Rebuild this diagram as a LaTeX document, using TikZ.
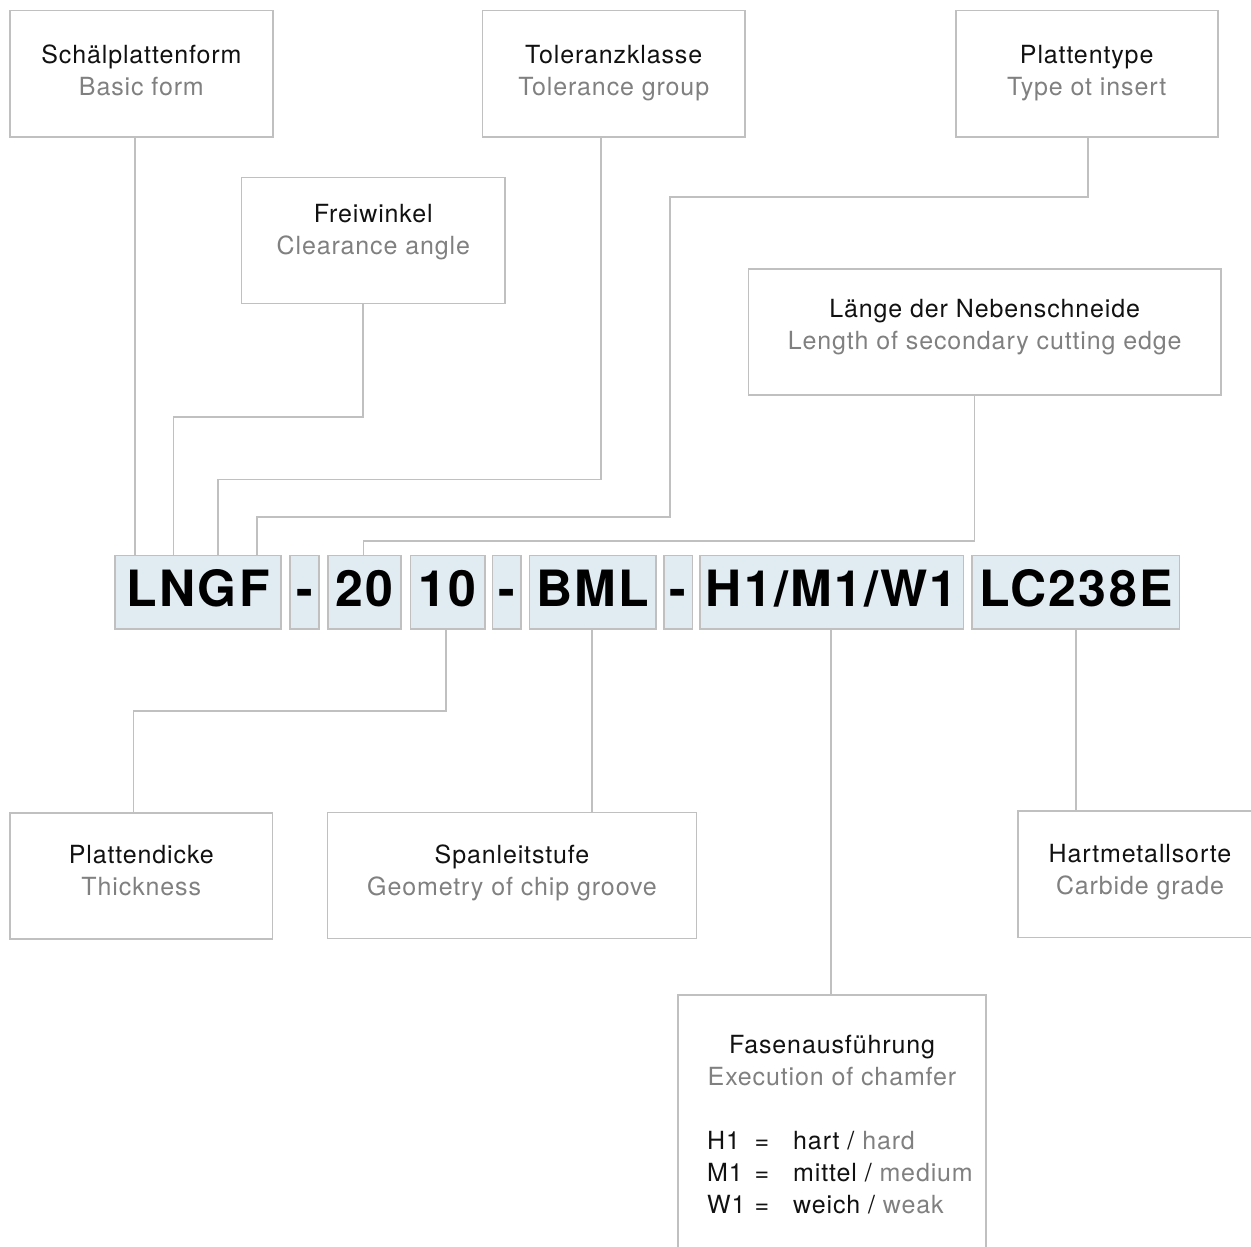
\documentclass[tikz,border=0pt]{standalone}
\usepackage{fontspec}
\setmainfont{TeX Gyre Heros}[LetterSpace=3.5]
\newfontfamily\codefont{TeX Gyre Heros}[LetterSpace=4.5]
\usepackage{xcolor}
\usepackage{tikz}

\definecolor{linegray}{HTML}{C0C0C0}
\definecolor{codefill}{HTML}{E1EBF2}
\definecolor{engray}{HTML}{808080}
\definecolor{degray}{HTML}{111111}

\newcommand{\twolines}[2]{\begin{tabular}[t]{@{}c@{}}\textcolor{degray}{#1}\\\textcolor{engray}{#2}\end{tabular}}
\newcommand{\keyrow}[3]{\makebox[47.5pt][l]{#1}\makebox[38.5pt][l]{=}#2 / \textcolor{engray}{#3}}

\begin{document}
\begin{tikzpicture}[x=1pt,y=-1pt,
    lbl/.style={font=\fontsize{25}{32}\selectfont, inner sep=0pt, text=degray},
    infobox/.style={lbl, draw=linegray, line width=1.6pt, minimum height=126pt,
        text height=22.4pt, text depth=#1},
    infobox/.default=43.2pt,
    codebox/.style={draw=linegray, fill=codefill, line width=1.6pt, minimum height=73.3pt,
        inner sep=0pt, text height=36pt, text depth=7.2pt,
        font=\codefont\bfseries\fontsize{50}{50}\selectfont},
    conn/.style={draw=linegray, line width=1.6pt}]
    \useasboundingbox (0,0) rectangle (1251,1247);
    \clip (0,0) rectangle (1251,1247);

    % code
    \node[codebox, minimum width=165.5pt] (form) at (198,592.3) {LNGF};
    \node[codebox, minimum width=28.8pt] (dash1) at (304.4,592.3) {-};
    \node[codebox, minimum width=73pt] (len) at (364.5,592.3) {20};
    \node[codebox, minimum width=74.3pt] (thick) at (447.8,592.3) {10};
    \node[codebox, minimum width=28.7pt] (dash2) at (506.7,592.3) {-};
    \node[codebox, minimum width=126.4pt] (groove) at (592.7,592.3) {BML};
    \node[codebox, minimum width=28.7pt] (dash3) at (678.3,592.3) {-};
    \node[codebox, minimum width=263.6pt] (chamfer) at (831.6,592.3) {H1/M1/W1};
    \node[codebox, minimum width=207.7pt] (grade) at (1075.7,592.3) {LC238E};

    % upper boxes
    \node[infobox, minimum width=262.7pt] (schael) at (141.4,73.7) {\twolines{Schälplattenform}{Basic form}};
    \node[infobox=58.4pt, minimum width=263.3pt] (frei) at (373.3,240.3) {\twolines{Freiwinkel}{Clearance angle}};
    \node[infobox, minimum width=262.7pt] (toler) at (613.7,73.7) {\twolines{Toleranzklasse}{Tolerance group}};
    \node[infobox, minimum width=262pt] (platten) at (1086.7,73.7) {\twolines{Plattentype}{Type ot insert}};
    \node[infobox=51.2pt, minimum width=472.7pt] (laenge) at (984.7,331.7) {\twolines{Länge der Nebenschneide}{Length of secondary cutting edge}};

    % lower boxes
    \node[infobox=47.4pt, minimum width=262.7pt] (dicke) at (141.3,875.8) {\twolines{Plattendicke}{Thickness}};
    \node[infobox=46.8pt, minimum width=369.3pt] (span) at (512,875.5) {\twolines{Spanleitstufe}{Geometry of chip groove}};
    \node[infobox=45.4pt, minimum width=244pt, minimum height=126.3pt] (hart) at (1140,874.2) {\twolines{Hartmetallsorte}{Carbide grade}};
    \node[infobox, minimum width=308pt, minimum height=320pt, anchor=north] (fasen) at (832,994) {};
    \node[lbl, anchor=base] (fasentitle) at (832,1053.3) {\twolines{Fasenausführung}{Execution of chamfer}};
    \node[lbl, anchor=base west] (fasenkey) at (707,1149.3)
        {\begin{tabular}[t]{@{}l@{}}\keyrow{H1}{hart}{hard}\\\keyrow{M1}{mittel}{medium}\\\keyrow{W1}{weich}{weak}\end{tabular}};

    % connectors
    \draw[conn] (schael.south -| 135,0) -- (form.north -| 135,0);
    \draw[conn] (frei.south -| 362.7,0) -- (362.7,417) -| (form.north -| 173.5,0);
    \draw[conn] (toler.south -| 601,0) -- (601,479.5) -| (form.north -| 218,0);
    \draw[conn] (platten.south -| 1087.7,0) |- (670,197) |- (257,516.7) -- (form.north -| 257,0);
    \draw[conn] (laenge.south -| 974.3,0) |- (363.5,541) -- (len.north -| 363.5,0);
    \draw[conn] (thick.south -| 446,0) |- (133.3,711) -- (dicke.north -| 133.3,0);
    \draw[conn] (groove.south -| 591.7,0) -- (span.north -| 591.7,0);
    \draw[conn] (chamfer.south -| 831,0) -- (fasen.north -| 831,0);
    \draw[conn] (grade.south -| 1076,0) -- (hart.north -| 1076,0);
\end{tikzpicture}
\end{document}
